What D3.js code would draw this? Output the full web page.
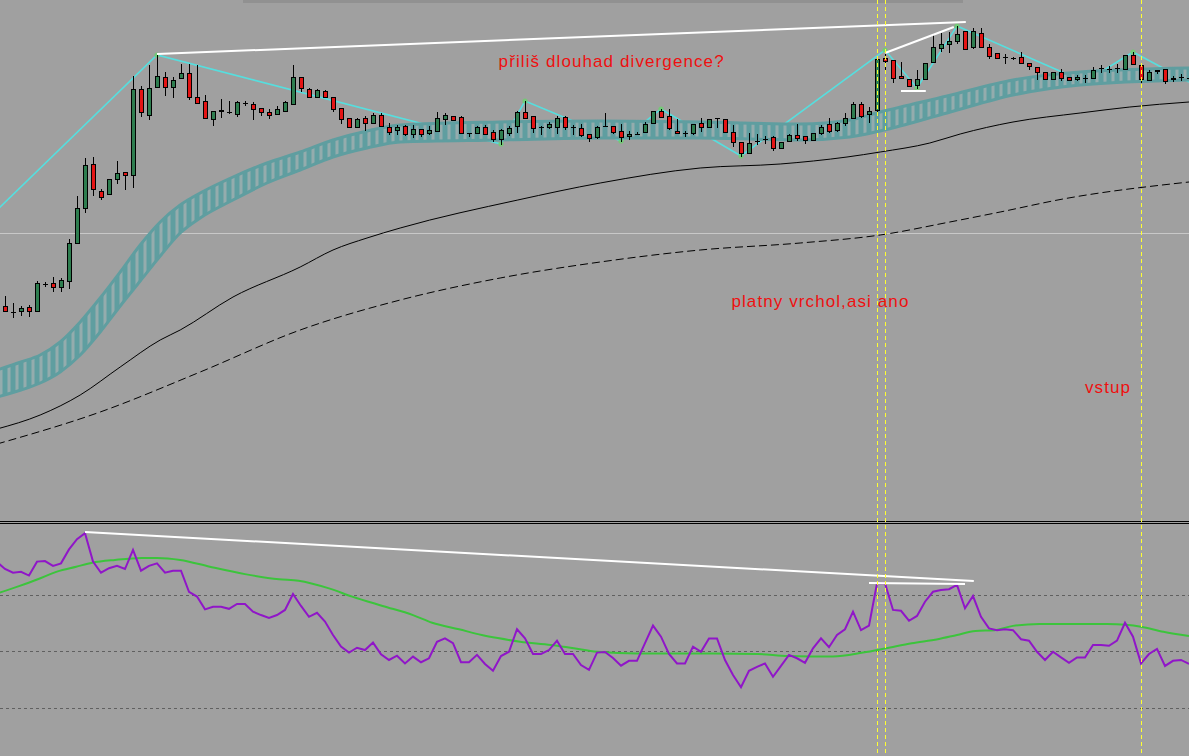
<!DOCTYPE html>
<html><head><meta charset="utf-8">
<script src="https://cdn.jsdelivr.net/npm/d3@7"></script>
<style>html,body{margin:0;padding:0;background:#a0a0a0;overflow:hidden}svg{display:block}</style>
</head><body><svg id="c" width="1189" height="756"></svg>
<script>
// ---- price data (points), one value per bar ----
const open = [214,208,209,213,209,236,237,233,239,277,
312,356,329,326,341,348,345,431,405,433,
443,433,442,447,423,419,401,409,408,406,
417,416,412,408,406,409,416,443,431,423,
429,423,412,402,393,402,397,405,393,390,
394,386,391,387,389,401,404,403,387,387,
393,388,381,387,394,408,404,393,393,393,
403,393,392,386,383,394,394,389,384,386,
388,397,409,404,389,387,387,397,393,402,
401,388,378,367,379,381,383,372,379,385,
384,380,387,396,390,397,402,416,406,410,
462,460,444,441,435,441,458,472,476,479,
489,473,487,473,467,463,462,463,457,453,
448,441,448,443,441,442,442,452,451,452,
451,465,455,440,449,451,441,443,442];
const high = [224,217,214,215,239,238,243,242,281,324,
362,363,331,341,359,348,444,434,455,465,
448,443,456,456,455,425,409,421,419,419,
419,418,412,411,414,419,455,443,432,431,
430,423,412,402,402,404,407,407,397,395,
395,395,391,394,408,407,404,404,387,394,
395,390,391,394,409,419,404,394,398,404,
404,395,396,386,394,407,394,396,389,388,
398,409,411,411,401,389,396,402,401,402,
401,395,378,387,386,384,384,378,386,396,
384,387,395,402,398,407,418,418,413,463,
470,460,458,441,450,457,486,487,488,494,
489,492,492,476,467,466,463,468,457,453,
448,448,451,443,445,445,453,455,454,456,
465,468,457,450,450,451,444,446,444];
const low = [209,203,205,204,209,234,229,229,232,277,
308,325,321,326,337,331,333,404,401,433,
425,423,442,421,417,402,395,403,407,404,
415,401,405,402,406,409,416,429,423,423,
423,409,397,393,393,390,397,394,386,386,
385,383,384,386,389,396,400,387,384,387,
386,379,376,385,388,402,388,386,392,387,
391,386,384,379,382,394,387,379,381,386,
388,397,403,391,387,384,386,389,393,393,
388,374,364,367,376,377,370,372,379,380,
377,380,386,388,389,395,402,403,398,408,
451,438,442,434,432,441,458,469,468,477,
471,472,473,462,462,457,461,457,451,441,
441,441,440,440,440,438,442,448,448,448,
451,456,438,440,447,437,439,440,440];
const close = [209,208,212,209,237,236,233,240,277,312,
355,331,323,341,347,345,431,408,432,444,
433,440,447,423,417,402,409,410,408,418,
417,411,408,405,411,418,443,432,423,430,
423,411,401,393,401,397,405,394,388,393,
386,391,386,390,402,405,400,387,387,393,
386,381,390,392,408,402,392,393,396,402,
393,393,385,382,393,394,388,383,386,386,
396,409,403,392,387,387,396,393,401,402,
388,378,367,377,379,381,372,378,385,382,
380,387,393,389,397,402,416,404,409,461,
459,442,442,434,441,457,473,476,479,486,
471,489,473,464,462,463,462,457,454,448,
441,448,442,440,443,442,450,452,451,452,
465,456,441,448,450,439,442,443,442];

// ---- moving-average ribbon (knots: bar index, upper, lower) ----
const bandIdx   = [-1,2,4.4,6.9,9.4,11.9,14.4,16.9,19.4,21.9,24.4,28.5,32.75,36.9,41,45.25,49.4,61.9,74.4,86.9,99.4,105.6,109.4,117.75,126,134.4,148];
const bandUpper = [150,158,165,178,198,222,248,275,298,315,327,343,357,368,380,389,395,398,399,398,396,400,408,424,440,448,452];
const bandLower = [123,130,137,148,165,188,214,239,264,287,302,320,337,350,363,372,378,380,382,382,380,383,389,407,425,435,440];

// ---- slow MA (solid) and slower MA (dashed) knots ----
const maIdx  = [-1,4.4,9.4,14.4,19.4,21.9,28.5,36.9,41,45.25,49.4,64.1,74.4,86.9,96.9,105.25,109.4,115.6,119.4,126,134.4,140.6,148];
const maVal  = [91,105,125,153,180,190,223,253,270,282,292,320,337,352,356,363,368,377,386,398,407,413,418];
const ma2Idx = [-1,11.9,24.4,36.9,49.4,61.9,74.4,86.9,99.4,109.4,118.1,124.4,132.25,148];
const ma2Val = [76,108,148,190,220,242,258,270,277,285,298,308,321,338];

// ---- zigzag swing points (bar index, price) ----
const zzIdx = [-1,19,62,65,77,82,92,110,114,119,135,141,148];
const zzVal = [310,465,376,419,379,411,364,470,432,494,438,468,438];

// ---- drawn trendlines in price window [i1,p1,i2,p2] ----
const priceTrend = [[19,466,120.1,498],[110,467,118.6,493],[112,429,115.1,429]];
const lastPrice = 287;

// ---- oscillator (first value belongs to bar -1) ----
const rsi = [81.5,
79.0,77.7,78.0,76.7,81.6,81.8,80.1,81.0,85.9,89.5,
91.6,81.6,77.7,79.3,80.1,79.0,85.7,78.4,80.1,81.0,
77.7,78.4,78.4,71.0,69.3,64.8,65.7,65.7,65.0,66.7,
66.7,64.0,62.8,61.8,62.8,64.6,70.2,66.0,62.2,63.6,
60.5,55.8,51.7,49.6,51.3,50.5,53.1,49.0,47.0,48.5,
45.8,48.2,46.2,47.6,53.4,54.6,52.9,46.2,46.2,48.8,
45.6,43.2,48.4,49.9,57.8,54.6,49.1,49.1,50.5,53.8,
49.1,49.1,45.2,43.5,49.6,49.8,47.7,45.0,46.7,46.7,
52.9,59.1,55.2,49.1,45.8,45.8,51.7,49.9,54.6,54.6,
47.0,41.7,37.4,43.2,44.6,45.8,41.1,44.9,48.8,47.6,
46.0,51.1,54.6,51.5,55.8,57.8,64.0,57.5,59.1,74.0,
74.0,64.6,64.3,60.8,62.5,67.5,71.0,71.6,71.9,73.4,
65.2,69.5,62.2,58.1,57.5,57.8,57.5,54.3,53.8,49.9,
47.0,49.9,47.9,46.0,47.9,47.9,52.3,52.3,52.0,53.8,
60.1,55.2,45.8,49.1,50.9,44.9,46.7,47.0,45.6];
const rsiFirstBar = -1;
const sigIdx = [-1,1.75,4.1,6.5,8.9,10.9,13.75,17.1,19,21.9,25.6,30,34.25,36.7,40.5,43.4,47.2,51,53.4,56.75,59.6,61.6,64.4,68.25,71.1,74,79.1,88.5,94.1,97.85,103.5,107.25,110.1,113.35,116.6,119,121.3,123.7,126,129.3,133.1,137.75,140.1,142,144.8,148];
const sigVal = [70.4,73.0,75.4,78.1,79.8,81.2,82.2,82.9,82.9,82.2,79.8,77.2,75.4,74.9,72.2,69.3,66.0,62.8,60.1,57.8,55.8,54.7,53.4,52.3,51.1,49.9,49.3,49.3,49.1,48.4,48.2,49.6,51.1,52.9,54.3,55.8,57.2,57.5,59.0,59.7,59.7,59.7,59.4,58.7,56.9,55.4];
const levels = [70,50,30];
const oscTrend = [[10,92.0,121.1,74.8],[108,74.1,120,73.7]];

// ---- vertical markers (bar index) and notes ----
const vMarks = [109,110,142];
const notes = [
  {text:"přiliš dlouhad divergence?", i:61.7, p:453},
  {text:"platny vrchol,asi ano", i:90.8, p:213},
  {text:"vstup", i:135, p:127}
];

// =================== drawing ===================
const W = 1189, H = 756, mainH = 520;
const svg = d3.select('#c');
const x = d3.scaleLinear().domain([0,148]).range([5,1189]);
const y = d3.scaleLinear().domain([0,520]).range([mainH,0]);
const ry = d3.scaleLinear().domain([30,70]).range([708.3,594.6]);

svg.append('rect').attr('width',W).attr('height',H).attr('fill','#a0a0a0');
const defs = svg.append('defs');
defs.append('clipPath').attr('id','mainClip').append('rect').attr('x',0).attr('y',0).attr('width',W).attr('height',mainH);
defs.append('clipPath').attr('id','oscClip').append('rect').attr('x',0).attr('y',525).attr('width',W).attr('height',H-525);
const pat = defs.append('pattern').attr('id','hatch').attr('patternUnits','userSpaceOnUse')
  .attr('width',8).attr('height',10).attr('x',x(0)-2.5);
pat.append('rect').attr('width',8).attr('height',10).attr('fill','#94acad');
pat.append('rect').attr('width',5).attr('height',10).attr('fill','#5f9ea0');

// top window shadow strip
svg.append('rect').attr('x',243).attr('y',0).attr('width',720).attr('height',3).attr('fill','#919191');

const main = svg.append('g').attr('clip-path','url(#mainClip)');

// last price line
main.append('line').attr('x1',0).attr('x2',W).attr('y1',Math.round(y(lastPrice))+0.5).attr('y2',Math.round(y(lastPrice))+0.5)
  .attr('stroke','#c8c8c8').attr('stroke-width',1);

// moving averages
const maLine = d3.line().x(d=>x(d[0])).y(d=>y(d[1])).curve(d3.curveMonotoneX);
main.append('path').attr('d',maLine(maIdx.map((v,k)=>[v,maVal[k]])))
  .attr('fill','none').attr('stroke','#000').attr('stroke-width',1);
main.append('path').attr('d',maLine(ma2Idx.map((v,k)=>[v,ma2Val[k]])))
  .attr('fill','none').attr('stroke','#000').attr('stroke-width',1).attr('stroke-dasharray','8,4');

// zigzag
const zz = zzIdx.map((v,k)=>[v,zzVal[k]]);
main.append('path').attr('d',d3.line().x(d=>x(d[0])).y(d=>y(d[1]))(zz))
  .attr('fill','none').attr('stroke','#56dede').attr('stroke-width',1.6);
main.selectAll('circle.zz').data(zz.slice(1,-1)).join('circle').attr('class','zz')
  .attr('cx',d=>x(d[0])).attr('cy',d=>y(d[1])).attr('r',2.6).attr('fill','#6fcf6f').attr('opacity',0.85);

// ribbon
const band = bandIdx.map((v,k)=>({i:v,u:bandUpper[k],l:bandLower[k]}));
main.append('path').attr('d',d3.area().x(d=>x(d.i)).y0(d=>y(d.l)).y1(d=>y(d.u)).curve(d3.curveMonotoneX)(band))
  .attr('fill','url(#hatch)');
const bl = d3.line().x(d=>x(d[0])).y(d=>y(d[1])).curve(d3.curveMonotoneX);
main.append('path').attr('d',bl(band.map(d=>[d.i,d.u]))).attr('fill','none').attr('stroke','#5f9ea0').attr('stroke-width',3);
main.append('path').attr('d',bl(band.map(d=>[d.i,d.l]))).attr('fill','none').attr('stroke','#5f9ea0').attr('stroke-width',3);

// candles
const cg = main.append('g');
open.forEach((o,i)=>{
  const c = close[i], cx = Math.round(x(i));
  cg.append('line').attr('x1',cx+0.5).attr('x2',cx+0.5)
    .attr('y1',Math.round(y(high[i]))).attr('y2',Math.round(y(low[i]))+1)
    .attr('stroke','#000').attr('stroke-width',1);
  const top = Math.round(y(Math.max(o,c))), bot = Math.round(y(Math.min(o,c)));
  if (bot - top < 1) {
    cg.append('line').attr('x1',cx-2).attr('x2',cx+3).attr('y1',top+0.5).attr('y2',top+0.5)
      .attr('stroke','#000').attr('stroke-width',1);
  } else {
    cg.append('rect').attr('x',cx-1.5).attr('y',top+0.5).attr('width',4).attr('height',bot-top)
      .attr('fill', c>o ? '#2e7d4f' : '#e41414').attr('stroke','#000').attr('stroke-width',1);
  }
});

// trendlines
main.selectAll('line.tr').data(priceTrend).join('line').attr('class','tr')
  .attr('x1',d=>x(d[0])).attr('y1',d=>y(d[1])).attr('x2',d=>x(d[2])).attr('y2',d=>y(d[3]))
  .attr('stroke','#fff').attr('stroke-width',2);

// separator
[521.5,523.5].forEach(v=>svg.append('line').attr('x1',0).attr('x2',W).attr('y1',v).attr('y2',v).attr('stroke','#000').attr('stroke-width',1));

// oscillator
const osc = svg.append('g').attr('clip-path','url(#oscClip)');
levels.forEach(l=>osc.append('line').attr('x1',0).attr('x2',W)
  .attr('y1',Math.round(ry(l))+0.5).attr('y2',Math.round(ry(l))+0.5)
  .attr('stroke','#606060').attr('stroke-width',1).attr('stroke-dasharray','3,3'));
osc.append('path').attr('d',d3.line().x(d=>x(d[0])).y(d=>ry(d[1])).curve(d3.curveMonotoneX)(sigIdx.map((v,k)=>[v,sigVal[k]])))
  .attr('fill','none').attr('stroke','#3cc43c').attr('stroke-width',2);
osc.append('path').attr('d',d3.line().x((d,k)=>x(k+rsiFirstBar)).y(d=>ry(d))(rsi))
  .attr('fill','none').attr('stroke','#9016c8').attr('stroke-width',2);
osc.selectAll('line.otr').data(oscTrend).join('line').attr('class','otr')
  .attr('x1',d=>x(d[0])).attr('y1',d=>ry(d[1])).attr('x2',d=>x(d[2])).attr('y2',d=>ry(d[3]))
  .attr('stroke','#fff').attr('stroke-width',2);

// vertical dashed markers
vMarks.forEach(i=>svg.append('line').attr('x1',Math.round(x(i))+0.5).attr('x2',Math.round(x(i))+0.5)
  .attr('y1',0).attr('y2',H).attr('stroke','#ffff30').attr('stroke-width',1).attr('stroke-dasharray','4,3'));

// notes
svg.selectAll('text.note').data(notes).join('text').attr('class','note')
  .attr('x',d=>x(d.i)).attr('y',d=>y(d.p))
  .attr('font-family','"Liberation Sans", Arial, sans-serif').attr('font-size',17)
  .attr('letter-spacing',1.1).attr('fill','#ee1010').text(d=>d.text);
</script>
</body></html>
